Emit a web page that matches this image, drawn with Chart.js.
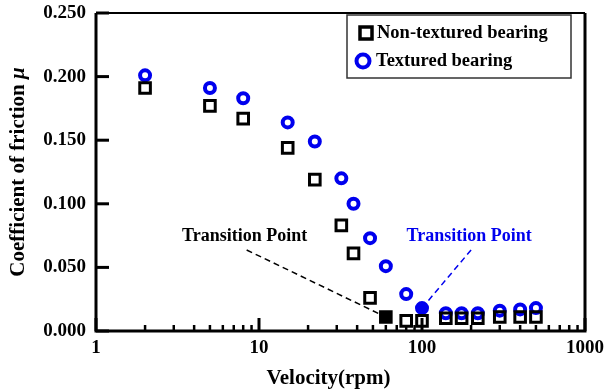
<!DOCTYPE html>
<html>
<head>
<meta charset="utf-8">
<script src="https://cdn.jsdelivr.net/npm/chart.js@4/dist/chart.umd.min.js"></script>
<style>
  html, body { margin: 0; padding: 0; background: #fff; }
  #wrap { width: 604px; height: 392px; position: relative; }
</style>
</head>
<body>
<div id="wrap"><canvas id="frictionChart"></canvas></div>
<script>
// rotational speed (rpm) and measured friction coefficients
var velocity = [2, 5, 8, 15, 22, 32, 38, 48, 60, 80, 100, 140, 175, 220, 300, 400, 500];
var nonTextured = [0.191, 0.177, 0.167, 0.144, 0.119, 0.083, 0.061, 0.026, 0.011, 0.008, 0.008, 0.010, 0.010, 0.010, 0.011, 0.011, 0.011];
var textured = [0.201, 0.191, 0.183, 0.164, 0.149, 0.120, 0.100, 0.073, 0.051, 0.029, 0.018, 0.014, 0.014, 0.014, 0.016, 0.017, 0.018];
var seriesNames = ['Non-textured bearing', 'Textured bearing'];
var yTicks = [0, 0.05, 0.10, 0.15, 0.20, 0.25];

// index of the transition point in each series
var transitionIndex = [8, 10];
var transitionText = 'Transition Point';

var FONT = '"Liberation Serif", "Times New Roman", serif';
var BLUE = '#0000ee';

function toPoints(ys){
  return ys.map(function(y, i){ return {x: velocity[i], y: y}; });
}

function fillFor(n, idx, color){
  var arr = [];
  for (var i = 0; i < n; i++) arr.push(i == idx ? color : 'rgba(0,0,0,0)');
  return arr;
}

// frame, inward ticks, axis titles, legend and transition notes
var decorPlugin = {
  id: 'decor',
  beforeDatasetsDraw: function(chart){
    var ctx = chart.ctx, a = chart.chartArea;
    var xs = chart.scales.x, ys = chart.scales.y;
    ctx.save();
    ctx.strokeStyle = '#000';
    // y ticks pointing into the plot
    ctx.lineWidth = 3;
    yTicks.forEach(function(v){
      var py = ys.getPixelForValue(v);
      ctx.beginPath(); ctx.moveTo(a.left, py); ctx.lineTo(a.left + 13, py); ctx.stroke();
    });
    // x ticks, decades longer
    xs.ticks.forEach(function(t){
      var px = xs.getPixelForValue(t.value);
      var major = Math.abs(Math.log10(t.value) % 1) < 1e-9;
      ctx.lineWidth = major ? 3 : 2.5;
      ctx.beginPath(); ctx.moveTo(px, a.bottom); ctx.lineTo(px, a.bottom - (major ? 13 : 6)); ctx.stroke();
    });
    // frame
    ctx.lineWidth = 3;
    ctx.beginPath();
    ctx.moveTo(a.left, a.top); ctx.lineTo(a.left, a.bottom); ctx.lineTo(a.right, a.bottom); ctx.lineTo(a.right, a.top);
    ctx.stroke();
    ctx.lineWidth = 2;
    ctx.beginPath(); ctx.moveTo(a.left, a.top); ctx.lineTo(a.right, a.top); ctx.stroke();
    ctx.restore();
  },
  afterDatasetsDraw: function(chart){
    var ctx = chart.ctx, a = chart.chartArea;
    var xs = chart.scales.x, ys = chart.scales.y;
    ctx.save();

    // axis titles
    ctx.fillStyle = '#000';
    ctx.textBaseline = 'alphabetic';
    ctx.textAlign = 'center';
    ctx.font = 'bold 21px ' + FONT;
    ctx.fillText('Velocity(rpm)', (a.left + a.right) / 2 - 12, 384);

    var t1 = 'Coefficient of friction ', t2 = '\u03bc';
    ctx.font = 'bold 21px ' + FONT;
    var w1 = ctx.measureText(t1).width;
    ctx.font = 'italic bold 21px ' + FONT;
    var w2 = ctx.measureText(t2).width;
    ctx.save();
    ctx.translate(24, (a.top + a.bottom) / 2);
    ctx.rotate(-Math.PI / 2);
    ctx.textAlign = 'left';
    ctx.font = 'bold 21px ' + FONT;
    ctx.fillText(t1, -(w1 + w2) / 2, 0);
    ctx.font = 'italic bold 21px ' + FONT;
    ctx.fillText(t2, -(w1 + w2) / 2 + w1, 0);
    ctx.restore();

    // legend box
    var bx = a.right - 238, by = a.top + 2, bw = 224, bh = 63;
    ctx.fillStyle = '#fff';
    ctx.fillRect(bx, by, bw, bh);
    ctx.strokeStyle = '#333';
    ctx.lineWidth = 1.5;
    ctx.strokeRect(bx, by, bw, bh);
    ctx.font = 'bold 18.5px ' + FONT;
    ctx.textAlign = 'left';
    ctx.textBaseline = 'middle';
    ctx.fillStyle = '#000';
    // square entry
    ctx.strokeStyle = '#000';
    ctx.lineWidth = 3.5;
    ctx.strokeRect(bx + 13, by + 12, 12, 12);
    ctx.fillText(chart.data.datasets[0].label, bx + 30, by + 18);
    // circle entry
    ctx.strokeStyle = BLUE;
    ctx.lineWidth = 4;
    ctx.beginPath(); ctx.arc(bx + 16, by + 46, 6.5, 0, Math.PI * 2); ctx.stroke();
    ctx.fillText(chart.data.datasets[1].label, bx + 29, by + 46);

    // transition notes with dashed leaders
    var notes = [
      {ds: 0, from: {x: 8.4, y: 0.0637}, color: '#000'},
      {ds: 1, from: {x: 200, y: 0.0637}, color: BLUE}
    ];
    notes.forEach(function(n){
      var i = transitionIndex[n.ds];
      var px = xs.getPixelForValue(velocity[i]);
      var py = ys.getPixelForValue(n.ds == 0 ? nonTextured[i] : textured[i]);
      var sx = xs.getPixelForValue(n.from.x), sy = ys.getPixelForValue(n.from.y);
      var dx = px - sx, dy = py - sy, len = Math.sqrt(dx * dx + dy * dy);
      var ex = px - dx / len * 5, ey = py - dy / len * 5;
      ctx.strokeStyle = n.color;
      ctx.lineWidth = 1.5;
      ctx.setLineDash([6, 4]);
      ctx.beginPath(); ctx.moveTo(sx, sy); ctx.lineTo(ex, ey); ctx.stroke();
      ctx.setLineDash([]);
      ctx.fillStyle = n.color;
      ctx.textAlign = 'center';
      ctx.textBaseline = 'alphabetic';
      ctx.font = 'bold 18px ' + FONT;
      ctx.fillText(transitionText, sx - 2, sy - 9);
    });
    ctx.restore();
  }
};

var ctx = document.getElementById('frictionChart');
var chart = new Chart(ctx, {
  type: 'scatter',
  data: {
    datasets: [{
      label: seriesNames[0],
      data: toPoints(nonTextured),
      pointStyle: 'rect',
      pointRadius: 7.5,
      pointHoverRadius: 7.5,
      borderWidth: 3,
      borderColor: '#000',
      backgroundColor: fillFor(velocity.length, transitionIndex[0], '#000')
    }, {
      label: seriesNames[1],
      data: toPoints(textured),
      pointStyle: 'circle',
      pointRadius: 5,
      pointHoverRadius: 5,
      borderWidth: 4,
      borderColor: BLUE,
      backgroundColor: fillFor(velocity.length, transitionIndex[1], BLUE)
    }]
  },
  options: {
    responsive: true,
    maintainAspectRatio: false,
    animation: false,
    events: [],
    layout: { padding: { left: 0, right: 19, top: 13, bottom: 0 } },
    plugins: { legend: { display: false }, tooltip: { enabled: false } },
    scales: {
      x: {
        type: 'logarithmic',
        min: 1,
        max: 1000,
        grid: { display: false, drawTicks: false },
        border: { display: false },
        afterBuildTicks: function(scale){
          var t = [];
          for (var d = 1; d < 1000; d *= 10)
            for (var k = 1; k < 10; k++) t.push({value: k * d});
          t.push({value: 1000});
          scale.ticks = t;
        },
        afterFit: function(scale){
          scale.height = 61;
          scale.paddingLeft = 0; scale.paddingRight = 0;
        },
        ticks: {
          autoSkip: false,
          maxRotation: 0,
          padding: 6,
          color: '#000',
          font: { family: FONT, size: 19, weight: 'bold' },
          callback: function(v){
            return Math.abs(Math.log10(v) % 1) < 1e-9 ? String(v) : '';
          }
        }
      },
      y: {
        min: 0,
        max: 0.25,
        grid: { display: false, drawTicks: false },
        border: { display: false },
        afterBuildTicks: function(scale){
          scale.ticks = yTicks.map(function(v){ return {value: v}; });
        },
        afterFit: function(scale){
          scale.width = 96;
          scale.paddingTop = 0; scale.paddingBottom = 0;
        },
        ticks: {
          padding: 10,
          color: '#000',
          font: { family: FONT, size: 19, weight: 'bold' },
          callback: function(v){ return v.toFixed(3); }
        }
      }
    }
  },
  plugins: [decorPlugin]
});
</script>
</body>
</html>
